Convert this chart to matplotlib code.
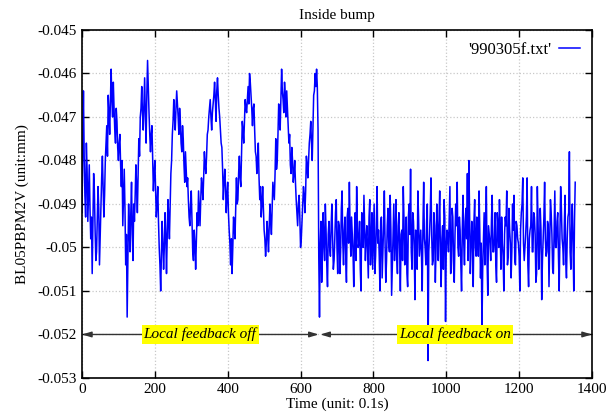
import numpy as np
import matplotlib
matplotlib.use("Agg")
import matplotlib.pyplot as plt

# BL05PBPM2V readings (um). Main samples every 4 steps, *_mid are the samples in between.
feedback_off = [
    -49.2, -46.4, -48.8, -47.6, -49.4, -48.1, -49.8, -50.6, -48.3, -49.6,
    -50.1, -48.6, -50.4, -48.9, -47.9, -49.3, -48.0, -47.2, -46.5, -47.4,
    -45.9, -47.0, -46.8, -47.6, -47.1, -48.0, -47.4, -48.6, -49.5, -48.2,
    -50.4, -51.6, -49.0, -50.1, -48.5, -50.3, -49.4, -48.1, -49.2, -47.5,
    -47.0, -46.3, -47.3, -46.1, -47.6, -45.7, -46.9, -47.8, -47.2, -48.7,
    -48.0, -49.3, -48.6, -50.0, -51.0, -49.4, -50.5, -49.2, -50.6, -48.9,
    -49.8, -48.3, -47.4, -46.6, -47.3, -46.4, -47.0, -46.8, -47.6, -47.2,
    -48.1, -47.8, -48.6, -48.9, -49.5, -48.7, -50.1, -49.6, -50.5, -49.2,
    -48.7, -49.5, -48.4, -48.9, -47.8, -48.3, -47.4, -47.0, -46.6, -47.3,
    -46.7, -46.2, -47.1, -46.1, -46.8, -47.3, -47.7, -48.9, -48.2, -49.2,
    -48.5, -49.6, -50.4, -50.6, -49.3, -49.8, -48.4, -48.9, -47.9, -48.6,
    -47.1, -47.6, -46.6, -46.9, -46.3, -46.0, -46.5, -47.2, -46.7, -47.8,
    -48.3, -47.6, -48.9, -49.3, -48.6, -49.6, -50.2, -49.4, -50.1, -49.0,
    -49.7, -48.5, -48.9, -47.5, -48.0, -46.7, -47.3, -45.9, -46.6, -46.2,
    -47.0, -46.8, -47.6, -48.1, -47.7, -48.5, -48.0, -48.9, -49.5, -48.8,
    -50.0, -49.4, -48.6, -49.2, -47.9, -48.4, -47.6, -47.1, -48.0, -46.5,
    -46.0, -45.9, -47.3, -51.6,
]
feedback_off_mid = [
    -47.8, -47.9, -49.3, -48.2, -48.7, -49.1, -49.3, -49.5, -48.7, -50.3,
    -49.4, -49.1, -49.7, -48.4, -48.6, -48.8, -47.6, -47.9, -46.9, -46.6,
    -46.6, -46.2, -47.3, -46.8, -47.7, -47.6, -48.1, -48.0, -48.8, -49.1,
    -49.7, -50.2, -49.6, -49.2, -49.7, -49.0, -48.8, -48.6, -48.3, -47.9,
    -46.8, -46.9, -46.7, -47.0, -46.5, -46.3, -47.4, -47.4, -48.0, -48.3,
    -48.7, -49.0, -49.4, -50.4, -50.2, -49.9, -50.0, -49.7, -49.8, -49.3,
    -49.0, -48.0, -47.1, -47.0, -46.8, -46.7, -47.4, -47.1, -47.8, -47.5,
    -48.5, -48.2, -48.4, -49.3, -49.0, -49.4, -50.3, -49.9, -49.8, -49.5,
    -49.1, -48.9, -48.6, -48.4, -48.1, -47.9, -47.3, -46.8, -47.0, -46.9,
    -46.5, -46.6, -46.4, -46.5, -47.0, -47.6, -48.2, -48.5, -48.6, -48.8,
    -49.2, -49.9, -49.8, -50.0, -49.5, -49.1, -49.0, -48.3, -48.4, -47.8,
    -47.3, -47.1, -46.8, -46.6, -46.7, -46.2, -46.8, -46.8, -47.3, -47.9,
    -48.0, -48.4, -48.6, -49.0, -49.1, -49.8, -49.9, -49.7, -49.5, -49.4,
    -49.1, -48.7, -48.3, -48.2, -47.4, -47.1, -46.6, -46.4, -46.9, -46.5,
    -46.4, -47.2, -47.4, -48.3, -48.0, -48.3, -48.5, -49.2, -49.0, -49.3,
    -49.8, -49.0, -48.8, -48.7, -48.1, -48.0, -47.4, -47.6, -47.2, -46.4,
    -46.3, -46.3, -50.2,
]
feedback_on = [
    -49.9, -50.8, -49.2, -50.3, -49.6, -50.9, -49.4, -50.2, -49.0, -50.5,
    -49.8, -48.9, -50.6, -49.5, -50.1, -48.7, -50.4, -49.3, -50.8, -49.1,
    -48.5, -50.2, -49.7, -50.9, -49.2, -48.6, -50.0, -49.4, -51.0, -49.8,
    -48.8, -50.3, -49.5, -50.7, -48.9, -49.9, -50.5, -49.0, -50.2, -48.6,
    -49.6, -51.0, -49.3, -50.1, -48.7, -50.8, -49.5, -49.9, -48.8, -51.1,
    -49.7, -50.3, -48.9, -50.6, -49.2, -51.0, -49.6, -48.6, -50.4, -49.3,
    -50.9, -49.0, -48.2, -50.5, -49.4, -51.2, -49.8, -48.7, -50.2, -49.6,
    -51.0, -48.5, -50.0, -49.4, -52.6, -49.7, -48.4, -50.4, -49.2, -50.8,
    -49.0, -50.3, -48.7, -50.9, -49.5, -48.9, -51.7, -49.6, -50.1, -48.6,
    -50.5, -49.3, -50.8, -49.0, -48.5, -50.2, -49.6, -51.0, -48.8, -50.4,
    -49.1, -48.3, -48.0, -50.6, -49.4, -50.9, -48.9, -50.2, -49.5, -48.7,
    -50.7, -51.9, -49.8, -50.4, -48.6, -51.1, -49.7, -50.3, -48.8, -50.1,
    -49.2, -50.8, -49.5, -48.9, -50.5, -49.9, -51.0, -49.3, -48.7, -50.2,
    -49.6, -50.7, -49.0, -48.8, -50.4, -49.5, -49.9, -51.0, -49.2, -48.4,
    -50.3, -49.7, -48.4, -50.9, -49.6, -48.6, -50.1, -49.3, -50.8, -48.6,
    -50.5, -49.1, -51.2, -49.8, -48.5, -50.2, -49.4, -50.9, -48.9, -49.7,
    -50.6, -48.7, -50.0, -49.2, -51.0, -48.6, -49.8, -50.4, -48.8, -50.7,
    -49.3, -47.8, -50.5, -49.0, -51.0, -48.5,
]
feedback_on_mid = [
    -49.4, -50.1, -49.9, -49.0, -50.4, -49.7, -50.0, -49.5, -49.8, -50.3,
    -49.2, -50.0, -49.4, -50.6, -49.1, -49.9, -49.6, -50.2, -49.3, -49.9,
    -49.6, -49.3, -50.1, -49.7, -50.3, -49.5, -49.9, -50.5, -49.2, -50.0,
    -49.6, -49.8, -50.1, -49.3, -50.4, -49.2, -49.8, -50.6, -49.5, -49.9,
    -50.2, -49.4, -50.7, -49.5, -49.9, -50.3, -49.1, -50.1, -49.6, -50.4,
    -49.0, -49.8, -50.2, -49.5, -50.0, -49.7, -50.3, -49.4, -49.9, -50.6,
    -49.3, -49.7, -50.1, -49.2, -50.0, -49.6, -50.5, -49.3, -49.9, -50.2,
    -49.5, -49.8, -50.4, -49.0, -50.1, -49.2, -49.7, -50.3, -49.5, -50.0,
    -49.6, -49.4, -50.2, -49.8, -50.5, -49.3, -50.0, -49.7, -49.4, -50.6,
    -49.1, -50.3, -49.7, -49.5, -50.0, -49.3, -50.4, -49.6, -49.9, -49.4,
    -49.8, -50.3, -49.2, -50.1, -49.7, -49.4, -50.0, -49.3, -50.2, -49.6,
    -49.9, -50.5, -49.2, -49.7, -50.3, -49.5, -49.9, -49.4, -50.1, -49.8,
    -50.4, -49.2, -50.0, -49.6, -49.3, -50.2, -49.7, -49.5, -50.4, -49.1,
    -49.9, -50.1, -49.6, -50.3, -49.4, -49.8, -50.2, -49.6, -49.0, -49.9,
    -50.0, -49.3, -50.4, -49.8, -49.5, -50.1, -49.2, -49.7, -50.6, -49.4,
    -50.0, -49.6, -50.3, -49.3, -49.8, -50.1, -49.5, -49.9, -49.2, -50.5,
    -49.6, -50.0, -49.4, -50.2, -49.7, -49.1, -50.0, -49.5, -50.3, -49.8,
    -49.2, -50.1, -49.6, -49.9, -49.4,
]


def interleave(main, mid):
    out = np.empty(len(main) + len(mid))
    out[0::2] = main
    out[1::2] = mid
    return out


step = 2
values_mm = np.concatenate([interleave(feedback_off, feedback_off_mid),
                            interleave(feedback_on, feedback_on_mid)]) / 1000.0
time = np.arange(len(values_mm)) * step

switch_time = 652
arrow_y = -0.052

plt.rcParams['font.family'] = ['Liberation Serif', 'DejaVu Serif']
plt.rcParams['font.size'] = 11

fig = plt.figure(figsize=(6.16, 4.19), dpi=100)
ax = fig.add_axes([0.1331, 0.0979, 0.8279, 0.8305])

ax.plot(time, values_mm, color='#0000ff', lw=1.1, label="'990305f.txt'")

ax.set_xlim(0, 1400)
ax.set_ylim(-0.053, -0.045)
ax.set_xticks(np.arange(0, 1401, 200))
ax.set_yticks(np.arange(-0.053, -0.04499, 0.001))
ax.yaxis.set_major_formatter(matplotlib.ticker.FuncFormatter(lambda v, p: '%g' % round(v, 3)))
ax.tick_params(direction='in', top=True, right=True, length=5, width=1)
ax.grid(True, color='#c8c8c8', ls=':', lw=0.9)
for s in ax.spines.values():
    s.set_linewidth(1.2)

ax.set_title('Inside bump', fontsize=11, pad=8)
ax.set_xlabel('Time (unit: 0.1s)', labelpad=1)
ax.set_ylabel('BL05PBPM2V (unit:mm)', labelpad=6)

# feedback regions
arr = dict(arrowstyle='<|-|>,head_length=0.5,head_width=0.15', color='#333333',
           lw=1.0, shrinkA=0, shrinkB=0)
ax.annotate('', xy=(0, arrow_y), xytext=(switch_time - 2, arrow_y), arrowprops=arr)
ax.annotate('', xy=(switch_time + 2, arrow_y), xytext=(1400, arrow_y), arrowprops=arr)
box = dict(facecolor='#ffff00', edgecolor='none', pad=1.5)
ax.text(324, arrow_y, 'Local feedback off', style='italic', ha='center', va='center', bbox=box, zorder=5)
ax.text(1025, arrow_y, 'Local feedback on', style='italic', ha='center', va='center', bbox=box, zorder=5)

ax.legend(loc='upper right', frameon=False, markerfirst=False, handlelength=1.3,
          borderaxespad=0.3, handletextpad=0.45, fontsize=12)

fig.savefig('out.png', dpi=100)
